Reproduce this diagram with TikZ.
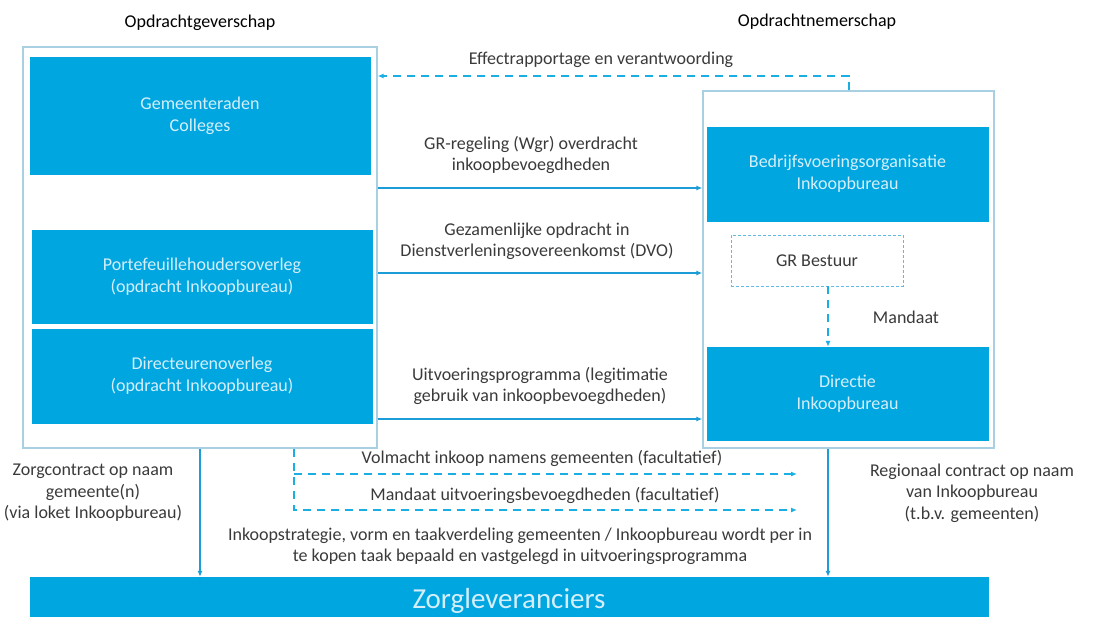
\documentclass[tikz,border=0pt]{standalone}
\usepackage{fontspec}
\setmainfont{Carlito}
\usetikzlibrary{arrows.meta}

\definecolor{ibblauw}{HTML}{00A6E0}
\definecolor{iblijn}{HTML}{1C9DD8}
\definecolor{ibkader}{HTML}{A9D0E2}
\definecolor{ibtekst}{HTML}{D4EFFA}
\definecolor{ibgrijs}{HTML}{3A3A3A}

\tikzset{
  kader/.style = {rectangle, draw = ibkader, line width = 1.3pt, fill = white},
  blok/.style = {rectangle, draw = ibblauw, fill = ibblauw, text = ibtekst,
    align = center, font = \fontsize{18}{22}\selectfont},
  lbl/.style = {align = center, text = ibgrijs, font = \fontsize{18}{21.5}\selectfont},
  pijl/.style = {draw = iblijn, line width = 1.4pt, -{Latex[length=6pt,width=5pt]}},
  stippel/.style = {draw = ibblauw!90!white, line width = 2pt,
    dash pattern = on 8pt off 6pt, -{Latex[length=6pt,width=5pt]}}
}

\begin{document}
\begin{tikzpicture}[x=1pt, y=-1pt]
\useasboundingbox (0,0) rectangle (1099,617);

% opdrachtgevers
\node[kader,
    minimum width = 354pt,
    minimum height = 401pt] (links) at (200,247.5) {};
\node[blok,
    minimum width = 340pt,
    minimum height = 117pt] (raden) at (200,115.5) {Gemeenteraden\\Colleges};
\node[blok,
    minimum width = 340pt,
    minimum height = 93pt] (porte) at (202,276.5) {Portefeuillehoudersoverleg\\(opdracht Inkoopbureau)};
\node[blok,
    minimum width = 340pt,
    minimum height = 94pt] (direct) at (202,376) {Directeurenoverleg\\(opdracht Inkoopbureau)};

% opdrachtnemers
\node[kader,
    minimum width = 291pt,
    minimum height = 357pt] (rechts) at (848.5,269.5) {};
\node[blok,
    minimum width = 281pt,
    minimum height = 94pt] (bedrijf) at (847.5,174) {Bedrijfsvoeringsorganisatie\\Inkoopbureau};
\node[rectangle,
    draw = iblijn!70!white,
    densely dashed,
    line width = 0.8pt,
    text = ibgrijs,
    font = \fontsize{18}{21}\selectfont,
    minimum width = 172pt,
    minimum height = 51pt] (bestuur) at (817,260.5) {GR Bestuur};
\node[blok,
    minimum width = 281pt,
    minimum height = 93pt] (directie) at (847.5,393.5) {Directie\\Inkoopbureau};

\node[blok,
    font = \fontsize{29}{32}\selectfont,
    minimum width = 958pt,
    minimum height = 48pt] (zorg) at (509,601) {Zorgleveranciers};

% koppen
\node[lbl, text = black] (kop1) at (200,23) {Opdrachtgeverschap};
\node[lbl, text = black] (kop2) at (817,22) {Opdrachtnemerschap};

% verbindingen
\draw[stippel] (rechts.north) |- (links.east |- 0,76);
\draw[pijl] (links.east |- 0,188) -- (rechts.west |- 0,188);
\draw[pijl] (links.east |- 0,273) -- (rechts.west |- 0,273);
\draw[pijl] (links.east |- 0,419) -- (rechts.west |- 0,419);
\draw[stippel] (bestuur.south -| 828,0) -- (directie.north -| 828,0);

\coordinate (volm) at (797,474);
\coordinate (mand) at (797,510);
\draw[stippel] (links.south -| 294,0) |- (mand);
\draw[stippel] (294,474) -- (volm);

\draw[pijl] (links.south) -- (zorg.north -| links.south);
\draw[pijl] (rechts.south -| 828,0) -- (zorg.north -| 828,0);

% teksten
\node[lbl] (effect) at (601,60) {Effectrapportage en verantwoording};
\node[lbl] (regeling) at (531,155) {GR-regeling (Wgr) overdracht\\inkoopbevoegdheden};
\node[lbl] (dvo) at (537,241.5) {Gezamenlijke opdracht in\\Dienstverleningsovereenkomst (DVO)};
\node[lbl] (uitv) at (540,386) {Uitvoeringsprogramma (legitimatie\\gebruik van inkoopbevoegdheden)};
\node[lbl] (mandaat) at (906,317) {Mandaat};
\node[lbl] (volmlbl) at (542,458) {Volmacht inkoop namens gemeenten (facultatief)};
\node[lbl] (mandlbl) at (545,495) {Mandaat uitvoeringsbevoegdheden (facultatief)};
\node[lbl] (strat) at (520,546.5) {Inkoopstrategie, vorm en taakverdeling gemeenten / Inkoopbureau wordt per in\\te kopen taak bepaald en vastgelegd in uitvoeringsprogramma};
\node[lbl] (zorgcon) at (93,493) {Zorgcontract op naam\\gemeente(n)\\(via loket Inkoopbureau)};
\node[lbl] (regio) at (972,493) {Regionaal contract op naam\\van Inkoopbureau\\(t.b.v. gemeenten)};
\end{tikzpicture}
\end{document}
